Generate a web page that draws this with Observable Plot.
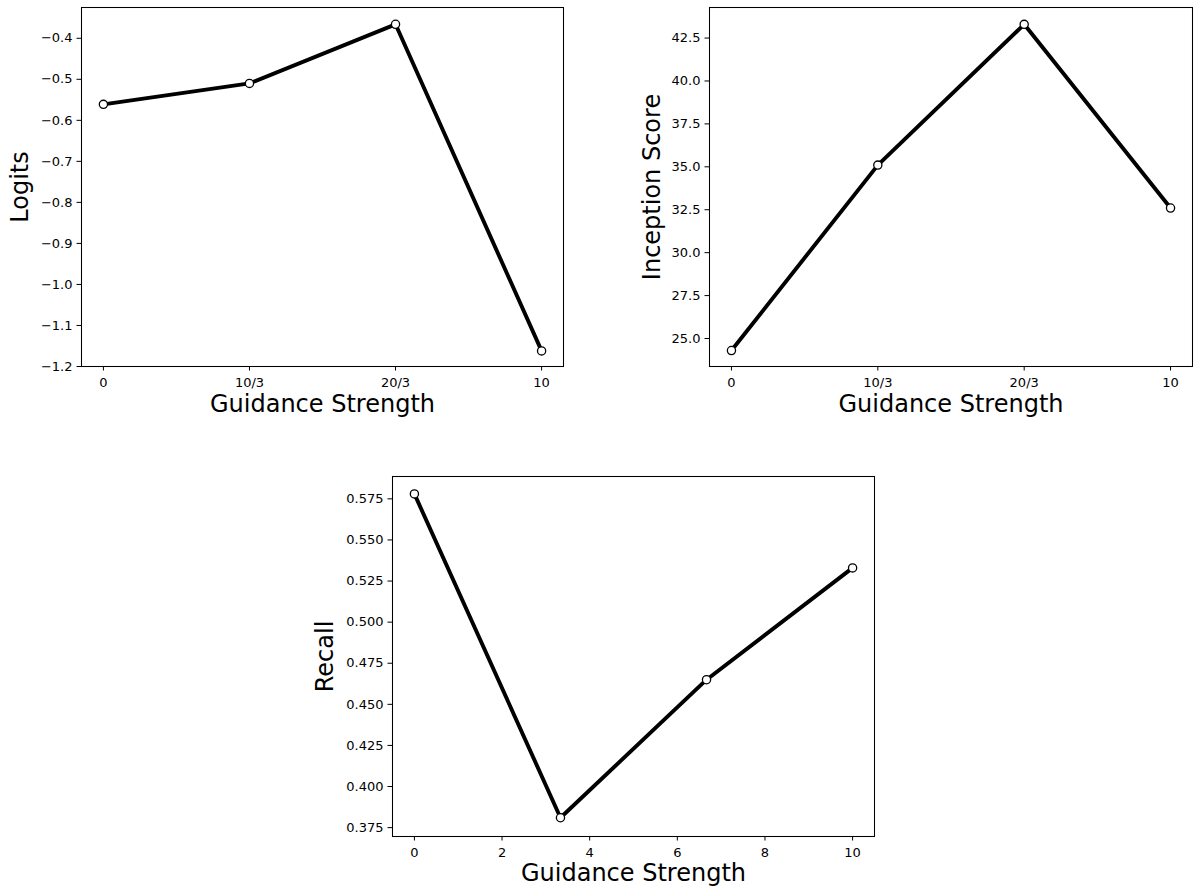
<!DOCTYPE html>
<html>
<head>
<meta charset="utf-8">
<script src="https://cdn.jsdelivr.net/npm/d3@7"></script>
<script src="https://cdn.jsdelivr.net/npm/@observablehq/plot@0.6"></script>
<style>
  html, body { margin: 0; padding: 0; background: #fff; }
  #wrap { position: relative; width: 1196px; height: 888px; font-family: "DejaVu Sans", sans-serif; }
  #wrap > .panel { position: absolute; }
  #wrap svg { overflow: visible; }
</style>
</head>
<body>
<div id="wrap">
  <div class="panel" id="p1" style="left:0px; top:0px;"></div>
  <div class="panel" id="p2" style="left:600px; top:0px;"></div>
  <div class="panel" id="p3" style="left:300px; top:460px;"></div>
</div>
<script>
// ---- data ----
const guidance = [0, 10/3, 20/3, 10];
const guidanceLabels = ["0", "10/3", "20/3", "10"];
const logits = [-0.561, -0.510, -0.366, -1.162];
const inception = [24.3, 35.1, 43.3, 32.6];
const recall = [0.578, 0.381, 0.465, 0.533];
const logitsTicks = [-1.2, -1.1, -1.0, -0.9, -0.8, -0.7, -0.6, -0.5, -0.4];
const inceptionTicks = [25.0, 27.5, 30.0, 32.5, 35.0, 37.5, 40.0, 42.5];
const recallTicks = [0.375, 0.400, 0.425, 0.450, 0.475, 0.500, 0.525, 0.550, 0.575];
const recallXTicks = [0, 2, 4, 6, 8, 10];

function panel({values, yTicks, yFormat, yDomain, xTicks, xFormat, yLabel, xLabel, width, height, margins, yLabelDx, xLabelDy}) {
  const data = guidance.map((g, i) => ({x: g, y: values[i]}));
  return Plot.plot({
    width, height,
    marginLeft: margins[0], marginRight: margins[1], marginTop: margins[2], marginBottom: margins[3],
    style: {fontFamily: "DejaVu Sans, sans-serif", fontSize: "13px", color: "#000", background: "white", overflow: "visible"},
    x: {domain: [-0.5, 10.5], label: null},
    y: {domain: yDomain, label: null},
    marks: [
      Plot.axisX({ticks: xTicks, tickFormat: xFormat, tickSize: 4.5, tickPadding: 7, fontSize: 13, label: null, stroke: "black", fill: "black"}),
      Plot.axisY({ticks: yTicks, tickFormat: yFormat, tickSize: 4.5, tickPadding: 4.5, fontSize: 13, label: null, stroke: "black", fill: "black"}),
      Plot.frame({stroke: "black", strokeWidth: 1.05}),
      Plot.line(data, {x: "x", y: "y", stroke: "black", strokeWidth: 3.9}),
      Plot.dot(data, {x: "x", y: "y", r: 4.1, fill: "white", stroke: "black", strokeWidth: 1.3}),
      Plot.text([yLabel], {frameAnchor: "left", dx: yLabelDx, rotate: -90, textAnchor: "middle", lineAnchor: "middle", fontSize: 24, fill: "black", text: d => d}),
      Plot.text([xLabel], {frameAnchor: "bottom", dy: xLabelDy, textAnchor: "middle", lineAnchor: "bottom", fontSize: 24, fill: "black", text: d => d})
    ]
  });
}

document.getElementById("p1").appendChild(panel({
  values: logits, yTicks: logitsTicks, yFormat: d3.format(".1f"), yDomain: [-1.2, -0.325],
  xTicks: guidance, xFormat: (d) => guidanceLabels[guidance.indexOf(d)],
  yLabel: "Logits", xLabel: "Guidance Strength",
  width: 590, height: 440, margins: [81, 27, 7, 74], yLabelDx: -61, xLabelDy: 45
}));

document.getElementById("p2").appendChild(panel({
  values: inception, yTicks: inceptionTicks, yFormat: d3.format(".1f"), yDomain: [23.37, 44.28],
  xTicks: guidance, xFormat: (d) => guidanceLabels[guidance.indexOf(d)],
  yLabel: "Inception Score", xLabel: "Guidance Strength",
  width: 596, height: 440, margins: [109, 4, 7, 74], yLabelDx: -57, xLabelDy: 45
}));

document.getElementById("p3").appendChild(panel({
  values: recall, yTicks: recallTicks, yFormat: d3.format(".3f"), yDomain: [0.3696, 0.5886],
  xTicks: recallXTicks, xFormat: d3.format("d"),
  yLabel: "Recall", xLabel: "Guidance Strength",
  width: 600, height: 428, margins: [92, 26, 16, 52], yLabelDx: -67, xLabelDy: 44
}));
</script>
</body>
</html>
